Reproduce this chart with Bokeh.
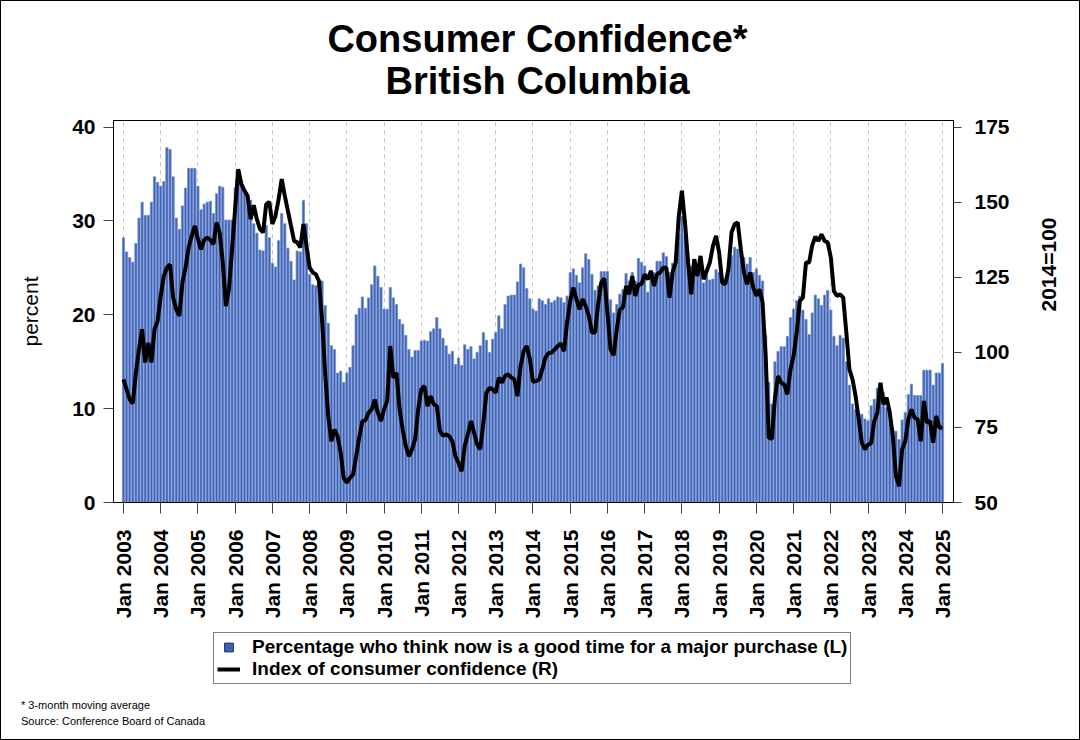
import math
from bokeh.plotting import figure
from bokeh.layouts import column, row
from bokeh.models import (Range1d, LinearAxis, FixedTicker, Legend, LegendItem,
                          Label, ColumnDataSource, Div)
from bokeh.embed import file_html
from bokeh.resources import INLINE

# ---------------- data ----------------
years = list(range(2003, 2026))
tick_labels = [f"Jan {y}" for y in years]

purchase_pct = [
    28.2, 26.7, 26.1, 25.6, 27.6, 30.3, 32.0, 30.6, 30.6, 32.0, 34.7, 34.1,
    33.7, 34.2, 37.8, 37.6, 34.7, 30.3, 29.1, 31.6, 33.5, 35.6, 35.6, 35.6,
    33.7, 31.2, 31.8, 32.0, 32.1, 30.8, 32.9, 33.7, 33.6, 30.1, 30.1, 30.1,
    33.5, 34.1, 33.8, 32.9, 32.5, 32.2, 29.7, 28.7, 26.9, 26.8, 29.5, 28.2,
    25.5, 25.1, 27.9, 30.8, 29.7, 27.1, 25.7, 23.7, 26.8, 26.7, 32.2, 29.7,
    24.3, 23.2, 23.1, 23.6, 23.6, 21.0, 19.1, 16.7, 16.3, 13.8, 14.0, 12.8,
    13.8, 14.4, 16.7, 20.0, 20.7, 21.9, 20.7, 21.8, 23.2, 25.2, 24.1, 22.9,
    20.6, 20.6, 22.9, 21.8, 21.1, 19.5, 19.0, 17.8, 16.3, 15.5, 16.2, 16.2,
    17.2, 17.3, 17.2, 18.2, 18.5, 19.7, 18.5, 17.5, 16.7, 15.8, 16.1, 14.7,
    15.4, 14.6, 16.8, 16.3, 16.6, 15.3, 16.0, 16.7, 18.1, 17.3, 16.0, 17.4,
    18.1, 19.9, 18.5, 21.1, 22.0, 22.1, 22.1, 23.5, 25.4, 25.0, 22.8, 21.7,
    20.6, 20.4, 21.7, 21.5, 21.1, 21.7, 21.3, 21.5, 21.9, 21.8, 21.3, 22.0,
    24.5, 24.9, 24.2, 23.4, 25.0, 26.5, 25.9, 24.3, 22.6, 23.1, 24.6, 24.6,
    24.6, 21.6, 20.2, 21.1, 22.2, 22.7, 24.4, 23.6, 24.5, 23.6, 26.0, 25.6,
    25.2, 22.4, 24.7, 24.5, 25.7, 25.7, 26.6, 26.2, 24.5, 25.5, 25.8, 28.5,
    30.5, 28.4, 25.9, 25.2, 25.9, 24.5, 25.2, 23.4, 24.2, 23.7, 23.8, 24.8,
    24.5, 23.4, 23.8, 25.6, 26.3, 27.2, 27.0, 27.2, 26.1, 25.4, 26.1, 24.5,
    24.9, 24.2, 23.6, 17.8, 12.8, 10.5, 15.0, 16.1, 16.6, 16.6, 17.7, 19.7,
    20.6, 21.5, 22.0, 20.5, 19.5, 17.9, 20.2, 22.1, 21.7, 21.0, 22.1, 22.6,
    20.5, 17.7, 16.7, 17.8, 17.5, 15.0, 12.5, 10.5, 9.9, 9.5, 9.4, 8.9,
    8.7, 10.3, 11.0, 12.2, 12.2, 11.7, 10.1, 9.9, 7.9, 7.6, 6.7, 8.8,
    9.6, 11.5, 12.6, 11.4, 11.4, 11.4, 14.1, 14.1, 14.1, 12.5, 13.8, 13.8,
    14.8,
]

confidence_index = [
    91.0, 87.7, 84.3, 83.0, 93.2, 101.0, 107.7, 96.6, 103.2, 96.6, 107.7, 110.4,
    118.8, 125.4, 128.2, 129.3, 118.2, 114.3, 112.1, 123.2, 128.2, 134.9, 138.8, 142.1,
    137.7, 134.3, 137.4, 138.2, 137.4, 136.0, 143.2, 139.9, 129.9, 115.4, 121.0, 134.3,
    148.0, 161.0, 156.0, 153.8, 152.1, 144.3, 149.0, 144.3, 141.0, 139.9, 149.3, 150.1,
    142.7, 145.4, 151.0, 157.7, 152.1, 147.1, 142.1, 137.1, 136.6, 134.9, 142.7, 135.4,
    128.2, 126.6, 126.0, 123.8, 111.0, 93.2, 78.8, 70.4, 74.3, 72.1, 66.6, 58.2,
    56.6, 58.2, 59.3, 65.4, 71.6, 77.1, 77.4, 79.9, 81.0, 84.3, 79.9, 77.1,
    81.0, 83.8, 102.1, 91.5, 93.2, 81.0, 74.3, 68.8, 65.4, 67.7, 71.0, 81.0,
    87.7, 88.8, 82.1, 85.4, 82.7, 82.1, 73.8, 72.3, 72.7, 72.1, 70.4, 65.4,
    63.2, 60.4, 68.8, 72.7, 77.1, 73.2, 69.3, 67.7, 76.6, 86.6, 88.2, 87.7,
    86.6, 91.6, 89.9, 92.1, 92.7, 91.6, 91.0, 85.4, 95.4, 100.4, 102.1, 97.7,
    90.2, 90.4, 91.0, 94.3, 98.2, 99.7, 99.9, 101.0, 102.1, 102.9, 100.4, 109.9,
    117.1, 121.6, 117.7, 114.3, 117.7, 115.4, 112.1, 106.6, 106.6, 116.0, 123.2, 124.6,
    113.2, 101.0, 99.0, 107.7, 114.3, 114.9, 122.1, 119.3, 125.4, 118.8, 122.7, 122.7,
    126.0, 124.3, 127.1, 122.1, 126.0, 126.6, 128.2, 128.2, 118.2, 126.6, 129.9, 145.4,
    153.8, 143.2, 129.9, 119.3, 131.0, 125.4, 132.1, 124.3, 127.1, 129.9, 135.4, 138.8,
    133.2, 123.2, 122.7, 127.7, 139.9, 142.7, 143.2, 134.3, 126.6, 122.7, 126.6, 121.6,
    118.8, 121.0, 116.6, 98.8, 71.6, 71.2, 84.9, 92.1, 89.9, 89.3, 86.0, 94.3,
    98.8, 106.6, 117.1, 118.2, 129.9, 129.9, 135.5, 138.5, 137.1, 139.3, 137.1, 136.6,
    131.6, 120.4, 118.8, 119.3, 118.2, 106.6, 94.3, 91.0, 85.4, 77.7, 69.9, 67.7,
    69.3, 69.7, 77.1, 79.9, 89.9, 82.7, 84.9, 79.9, 72.1, 58.8, 55.4, 67.7,
    70.4, 77.7, 81.0, 78.2, 77.7, 70.4, 83.8, 76.6, 77.1, 69.9, 78.8, 74.9,
    74.9,
]

left_ticks = [0, 10, 20, 30, 40]
right_ticks = [50, 75, 100, 125, 150, 175]
title_lines = ["Consumer Confidence*", "British Columbia"]
legend_labels = ["Percentage who think now is a good time for a major purchase (L)",
                 "Index of consumer confidence (R)"]
footnotes = ["* 3-month moving average", "Source: Conference Board of Canada"]

months = list(range(len(purchase_pct)))
year_ticks = [12 * i for i in range(len(years))]

# ---------------- layout constants ----------------
W = 1080
IW = W - 2                            # inner width inside the 1px page border
FL, FR = 113, 953                     # plot frame left / right (page px)
TOP_H, MAIN_H, LEG_H, NOTE_H = 109, 512, 66, 51   # 1 + 738 + 1 = 740
FONT = "Liberation Sans"
BAR_FILL, BAR_LINE = "#3e62b3", "#7391d3"


def blank_fig(h, y0):
    # its frame lines up with the main chart's frame (page x FL..FR)
    f = figure(width=IW, height=h, output_backend="svg", toolbar_location=None,
               x_range=Range1d(FL, FR), y_range=Range1d(y0 + h, y0),
               x_axis_location=None, y_axis_location=None,
               min_border=0, min_border_left=0, min_border_right=0,
               min_border_top=0, min_border_bottom=0,
               background_fill_color="white", border_fill_color="white")
    f.outline_line_color = None
    f.grid.visible = False
    return f


# ---------------- title strip ----------------
p_top = blank_fig(TOP_H, 1)
for txt, base in zip(title_lines, (52, 94)):
    p_top.add_layout(Label(x=537, y=base - 14, text=txt, text_align="center",
                           text_baseline="alphabetic", text_font=FONT,
                           text_font_style="bold", text_font_size="38px",
                           text_color="black"))

# ---------------- main chart ----------------
p = figure(width=IW, height=MAIN_H, output_backend="svg", toolbar_location=None,
           x_range=Range1d(-3.22, 267.55), y_range=Range1d(0, 40.7),
           min_border_left=FL - 1, min_border_right=IW - (FL - 1) - (FR - FL),
           min_border_top=10, min_border_bottom=120,
           background_fill_color="white", border_fill_color="white")
p.extra_y_ranges = {"idx": Range1d(50, 50 + 40.7 * 125 / 40)}
p.outline_line_color = "black"
p.outline_line_width = 1
p.ygrid.visible = False
p.xgrid.ticker = FixedTicker(ticks=year_ticks)
p.xgrid.grid_line_color = "#c4c4c4"
p.xgrid.grid_line_dash = "4 4"
p.xgrid.grid_line_width = 1

src = ColumnDataSource(dict(m=months, pct=purchase_pct, idx=confidence_index))
p.vbar(x="m", top="pct", bottom=0, width=0.72, source=src,
       fill_color=BAR_FILL, line_color=BAR_LINE, line_width=0.8)
p.line(x="m", y="idx", source=src, y_range_name="idx",
       line_color="black", line_width=4)


def style_axis(ax, tick_out, standoff):
    ax.major_label_text_font = FONT
    ax.major_label_text_font_style = "bold"
    ax.major_label_text_font_size = "21px"
    ax.major_label_text_color = "black"
    ax.major_label_standoff = standoff
    ax.major_tick_out = tick_out
    ax.major_tick_in = 0
    ax.minor_tick_out = 0
    ax.minor_tick_in = 0
    ax.axis_line_color = "black"
    ax.major_tick_line_color = "#444444"
    ax.axis_label_text_font = FONT
    ax.axis_label_text_color = "black"
    ax.axis_label_text_font_size = "21px"


xa = p.xaxis[0]
xa.ticker = FixedTicker(ticks=year_ticks)
xa.major_label_overrides = {t: lab for t, lab in zip(year_ticks, tick_labels)}
xa.major_label_orientation = math.pi / 2
style_axis(xa, 11, 16)

ya = p.yaxis[0]
ya.ticker = FixedTicker(ticks=left_ticks)
style_axis(ya, 10, 8)
ya.axis_label = "percent"
ya.axis_label_text_font_style = "normal"
ya.axis_label_standoff = 27

ra = LinearAxis(y_range_name="idx", ticker=FixedTicker(ticks=right_ticks))
style_axis(ra, 8, 13)
ra.axis_label = "2014=100"
ra.axis_label_text_font_style = "bold"
ra.axis_label_standoff = 36
ra.axis_label_orientation = math.pi / 2
p.add_layout(ra, "right")

# ---------------- legend strip ----------------
Y0 = 1 + TOP_H + MAIN_H
p_leg = blank_fig(LEG_H, Y0)
sq = p_leg.scatter(x=[FL], y=[Y0 - 50], marker="square", size=10,
                   fill_color=BAR_FILL, line_color="#1f2f5a", line_width=1)
ln = p_leg.line(x=[FL, FL + 10], y=[Y0 - 50, Y0 - 50], line_color="black", line_width=4)
legend = Legend(items=[LegendItem(label=legend_labels[0], renderers=[sq]),
                       LegendItem(label=legend_labels[1], renderers=[ln])],
                location=(213 - FL, Y0 + LEG_H - 684), orientation="vertical")
legend.label_text_font = FONT
legend.label_text_font_style = "bold"
legend.label_text_font_size = "19px"
legend.label_text_color = "black"
legend.glyph_width = 23
legend.glyph_height = 22
legend.label_height = 20
legend.label_standoff = 12
legend.spacing = -2
legend.padding = 3
legend.margin = 0
legend.border_line_color = "black"
legend.border_line_width = 1
legend.background_fill_color = "white"
legend.background_fill_alpha = 1
p_leg.add_layout(legend, "center")

# ---------------- footnotes ----------------
notes = Div(text="<br>".join(footnotes), width=IW, height=NOTE_H, margin=(0, 0, 0, 0),
            styles={"font-family": FONT, "font-size": "11px", "line-height": "16px",
                    "color": "black", "padding-left": "20px", "padding-top": "9px",
                    "box-sizing": "border-box", "background-color": "white"})

inner = column(p_top, p, p_leg, notes, spacing=0)


def bar(w, h):
    return Div(text="", width=w, height=h, margin=(0, 0, 0, 0),
               styles={"background-color": "black"})


page = column(bar(W, 1), row(bar(1, IW and TOP_H + MAIN_H + LEG_H + NOTE_H), inner,
                             bar(1, TOP_H + MAIN_H + LEG_H + NOTE_H), spacing=0),
              bar(W, 1), spacing=0)

open("out.html", "w").write(file_html(page, INLINE))
